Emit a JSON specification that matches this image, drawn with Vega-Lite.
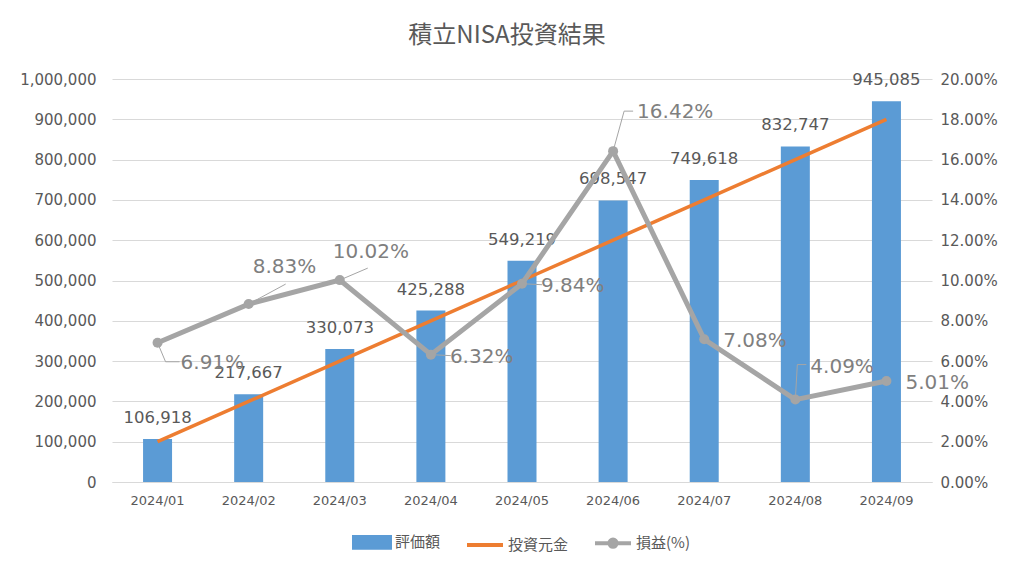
{
  "$schema": "https://vega.github.io/schema/vega-lite/v6.json",
  "width": 820,
  "height": 403,
  "autosize": "none",
  "padding": {"left": 112, "top": 79, "right": 92, "bottom": 85},
  "background": "white",
  "title": {"text": "積立NISA投資結果", "font": "Noto Sans CJK JP", "fontSize": 24, "fontWeight": "normal", "color": "#595959", "frame": "group", "anchor": "middle", "offset": 24, "dx": -15},
  "config": {
    "view": {"stroke": null},
    "axis": {"labelFont": "DejaVu Sans", "labelColor": "#595959", "title": null, "ticks": false, "domain": false}
  },
  "data": {"values": [
    {"month": "2024/01", "value": 106918, "principal": 100000, "pct": 0.0691},
    {"month": "2024/02", "value": 217667, "principal": 200000, "pct": 0.0883},
    {"month": "2024/03", "value": 330073, "principal": 300000, "pct": 0.1002},
    {"month": "2024/04", "value": 425288, "principal": 400000, "pct": 0.0632},
    {"month": "2024/05", "value": 549219, "principal": 500000, "pct": 0.0984},
    {"month": "2024/06", "value": 698547, "principal": 600000, "pct": 0.1642},
    {"month": "2024/07", "value": 749618, "principal": 700000, "pct": 0.0708},
    {"month": "2024/08", "value": 832747, "principal": 800000, "pct": 0.0409},
    {"month": "2024/09", "value": 945085, "principal": 900000, "pct": 0.0501}
  ]},
  "encoding": {
    "x": {"field": "month", "type": "ordinal", "scale": {"paddingInner": 0, "paddingOuter": 0},
      "axis": {"labelAngle": 0, "labelFontSize": 13, "labelPadding": 12, "domain": true, "domainColor": "#d9d9d9"}}
  },
  "layer": [
    {
      "encoding": {
        "y": {"field": "value", "type": "quantitative", "scale": {"domain": [0, 1000000]},
          "axis": {"values": [0,100000,200000,300000,400000,500000,600000,700000,800000,900000,1000000], "format": ",d", "labelFontSize": 15, "labelPadding": 16, "grid": true, "gridColor": "#d9d9d9", "gridWidth": 1}}
      },
      "layer": [
        {
          "mark": {"type": "bar", "size": 29},
          "encoding": {
            "color": {"datum": "評価額", "type": "nominal",
              "scale": {"domain": ["評価額", "投資元金", "損益(%)"], "range": ["#5b9bd5", "#ed7d31", "#a5a5a5"]},
              "legend": {"orient": "none", "legendX": 240, "legendY": 443, "direction": "horizontal", "title": null,
                "labelFont": "Noto Sans CJK JP", "labelFontSize": 15, "labelColor": "#595959", "symbolSize": 1296,
                "labelOffset": 3, "columnPadding": 18, "symbolStrokeWidth": 4,
                "encode": {"symbols": {"update": {
                  "shape": {"signal": "datum.value === '評価額' ? 'M-1,-0.3H1V0.3H-1Z' : datum.value === '投資元金' ? 'M-1,0H1' : 'M-1,0H1M0.2,0A0.2,0.2,0,1,1,-0.2,0A0.2,0.2,0,1,1,0.2,0'"},
                  "fill": {"signal": "datum.value === '評価額' ? '#5b9bd5' : datum.value === '損益(%)' ? '#a5a5a5' : 'transparent'"},
                  "stroke": {"signal": "datum.value === '評価額' ? 'transparent' : datum.value === '投資元金' ? '#ed7d31' : '#a5a5a5'"},
                  "strokeWidth": {"value": 4}
                }}}}
            }
          }
        },
        {
          "mark": {"type": "text", "font": "DejaVu Sans", "fontSize": 16.5, "color": "#595959", "baseline": "middle", "dy": -21},
          "encoding": {"text": {"field": "value", "type": "quantitative", "format": ",d"}}
        },
        {
          "mark": {"type": "line", "strokeWidth": 3.5},
          "encoding": {"y": {"field": "principal", "type": "quantitative"}, "color": {"datum": "投資元金", "type": "nominal"}}
        }
      ]
    },
    {
      "encoding": {
        "y": {"field": "pct", "type": "quantitative", "scale": {"domain": [0, 0.2]},
          "axis": {"orient": "right", "values": [0,0.02,0.04,0.06,0.08,0.1,0.12,0.14,0.16,0.18,0.2], "format": ".2%", "labelFontSize": 15, "labelPadding": 8, "grid": false}}
      },
      "layer": [
        {
          "transform": [{"filter": "datum.month === '2024/02'"}],
          "mark": {"type": "rule", "color": "#a5a5a5", "strokeWidth": 1, "x2Offset": 37, "y2Offset": -20},
          "encoding": {"x2": {"field": "month"}, "y2": {"field": "pct"}}
        },
        {
          "transform": [{"filter": "datum.month === '2024/03'"}],
          "mark": {"type": "rule", "color": "#a5a5a5", "strokeWidth": 1, "x2Offset": 28, "y2Offset": -12},
          "encoding": {"x2": {"field": "month"}, "y2": {"field": "pct"}}
        },
        {
          "transform": [{"filter": "datum.month === '2024/04' || datum.month === '2024/05'"}],
          "mark": {"type": "rule", "color": "#a5a5a5", "strokeWidth": 1, "x2Offset": 20, "y2Offset": 1},
          "encoding": {"x2": {"field": "month"}, "y2": {"field": "pct"}}
        },
        {
          "transform": [{"filter": "datum.month === '2024/01'"}],
          "mark": {"type": "rule", "color": "#a5a5a5", "strokeWidth": 1, "x2Offset": 8, "y2Offset": 19},
          "encoding": {"x2": {"field": "month"}, "y2": {"field": "pct"}}
        },
        {
          "transform": [{"filter": "datum.month === '2024/01'"}],
          "mark": {"type": "rule", "color": "#a5a5a5", "strokeWidth": 1, "xOffset": 8, "yOffset": 19, "x2Offset": 22, "y2Offset": 19},
          "encoding": {"x2": {"field": "month"}, "y2": {"field": "pct"}}
        },
        {
          "transform": [{"filter": "datum.month === '2024/06'"}],
          "mark": {"type": "rule", "color": "#a5a5a5", "strokeWidth": 1, "x2Offset": 11, "y2Offset": -40},
          "encoding": {"x2": {"field": "month"}, "y2": {"field": "pct"}}
        },
        {
          "transform": [{"filter": "datum.month === '2024/06'"}],
          "mark": {"type": "rule", "color": "#a5a5a5", "strokeWidth": 1, "xOffset": 11, "yOffset": -40, "x2Offset": 20, "y2Offset": -40},
          "encoding": {"x2": {"field": "month"}, "y2": {"field": "pct"}}
        },
        {
          "transform": [{"filter": "datum.month === '2024/08'"}],
          "mark": {"type": "rule", "color": "#a5a5a5", "strokeWidth": 1, "x2Offset": 2, "y2Offset": -35},
          "encoding": {"x2": {"field": "month"}, "y2": {"field": "pct"}}
        },
        {
          "transform": [{"filter": "datum.month === '2024/08'"}],
          "mark": {"type": "rule", "color": "#a5a5a5", "strokeWidth": 1, "xOffset": 2, "yOffset": -35, "x2Offset": 11, "y2Offset": -35},
          "encoding": {"x2": {"field": "month"}, "y2": {"field": "pct"}}
        },
        {
          "mark": {"type": "line", "strokeWidth": 5, "point": {"filled": true, "size": 100}},
          "encoding": {"color": {"datum": "損益(%)", "type": "nominal"}}
        },
        {
          "transform": [{"filter": "datum.month === '2024/04' || datum.month === '2024/05' || datum.month === '2024/07' || datum.month === '2024/09'"}],
          "mark": {"type": "text", "font": "DejaVu Sans", "fontSize": 20, "color": "#7f7f7f", "align": "left", "baseline": "middle", "dx": 19, "dy": 2},
          "encoding": {"text": {"field": "pct", "type": "quantitative", "format": ".2%"}}
        },
        {
          "transform": [{"filter": "datum.month === '2024/01'"}],
          "mark": {"type": "text", "font": "DejaVu Sans", "fontSize": 20, "color": "#7f7f7f", "align": "left", "baseline": "middle", "dx": 23, "dy": 20},
          "encoding": {"text": {"field": "pct", "type": "quantitative", "format": ".2%"}}
        },
        {
          "transform": [{"filter": "datum.month === '2024/02'"}],
          "mark": {"type": "text", "font": "DejaVu Sans", "fontSize": 20, "color": "#7f7f7f", "align": "left", "baseline": "middle", "dx": 4, "dy": -37},
          "encoding": {"text": {"field": "pct", "type": "quantitative", "format": ".2%"}}
        },
        {
          "transform": [{"filter": "datum.month === '2024/03'"}],
          "mark": {"type": "text", "font": "DejaVu Sans", "fontSize": 20, "color": "#7f7f7f", "align": "left", "baseline": "middle", "dx": -7, "dy": -28},
          "encoding": {"text": {"field": "pct", "type": "quantitative", "format": ".2%"}}
        },
        {
          "transform": [{"filter": "datum.month === '2024/06'"}],
          "mark": {"type": "text", "font": "DejaVu Sans", "fontSize": 20, "color": "#7f7f7f", "align": "left", "baseline": "middle", "dx": 24, "dy": -39},
          "encoding": {"text": {"field": "pct", "type": "quantitative", "format": ".2%"}}
        },
        {
          "transform": [{"filter": "datum.month === '2024/08'"}],
          "mark": {"type": "text", "font": "DejaVu Sans", "fontSize": 20, "color": "#7f7f7f", "align": "left", "baseline": "middle", "dx": 15, "dy": -33},
          "encoding": {"text": {"field": "pct", "type": "quantitative", "format": ".2%"}}
        }
      ]
    }
  ],
  "resolve": {"scale": {"y": "independent"}}
}
